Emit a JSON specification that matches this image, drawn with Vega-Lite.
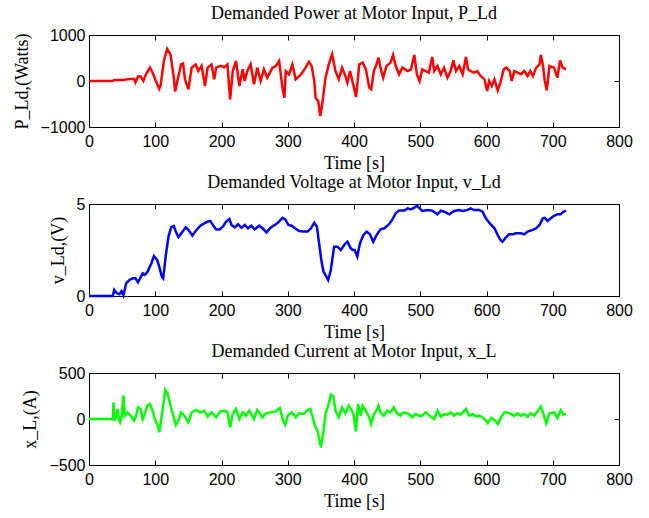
{
  "$schema": "https://vega.github.io/schema/vega-lite/v6.json",
  "padding": {"left": 12, "top": 4, "right": 5, "bottom": 5},
  "spacing": 0,
  "datasets": {
    "power": [
      {"t":0,"v":0},{"t":36,"v":0},{"t":38,"v":22},{"t":53,"v":22},{"t":58,"v":40},{"t":68,"v":50},{"t":70,"v":-30},{"t":74,"v":100},{"t":78,"v":100},{"t":82,"v":0},{"t":86,"v":145},{"t":92,"v":290},{"t":96,"v":180},{"t":103,"v":-70},{"t":106,"v":-170},{"t":108,"v":-100},{"t":113,"v":435},{"t":118,"v":700},{"t":123,"v":580},{"t":128,"v":72},{"t":130,"v":-230},{"t":134,"v":40},{"t":139,"v":360},{"t":142,"v":380},{"t":145,"v":36},{"t":150,"v":-180},{"t":155,"v":290},{"t":161,"v":360},{"t":165,"v":220},{"t":170,"v":330},{"t":175,"v":-110},{"t":179,"v":290},{"t":185,"v":360},{"t":189,"v":36},{"t":192,"v":290},{"t":199,"v":330},{"t":204,"v":300},{"t":209,"v":360},{"t":213,"v":-400},{"t":217,"v":217},{"t":222,"v":435},{"t":227,"v":-110},{"t":232,"v":254},{"t":235,"v":0},{"t":239,"v":217},{"t":244,"v":362},{"t":249,"v":-72},{"t":254,"v":290},{"t":259,"v":0},{"t":264,"v":254},{"t":269,"v":72},{"t":277,"v":290},{"t":282,"v":326},{"t":287,"v":435},{"t":292,"v":-145},{"t":295,"v":-362},{"t":297,"v":217},{"t":302,"v":145},{"t":307,"v":362},{"t":312,"v":36},{"t":320,"v":145},{"t":327,"v":290},{"t":332,"v":420},{"t":336,"v":326},{"t":340,"v":0},{"t":342,"v":-362},{"t":346,"v":-435},{"t":349,"v":-761},{"t":352,"v":-507},{"t":357,"v":72},{"t":362,"v":362},{"t":367,"v":580},{"t":372,"v":217},{"t":377,"v":36},{"t":382,"v":290},{"t":387,"v":109},{"t":390,"v":-36},{"t":394,"v":217},{"t":400,"v":-145},{"t":403,"v":-348},{"t":408,"v":362},{"t":413,"v":399},{"t":418,"v":254},{"t":423,"v":-145},{"t":426,"v":-181},{"t":430,"v":217},{"t":434,"v":362},{"t":437,"v":507},{"t":440,"v":290},{"t":444,"v":72},{"t":449,"v":326},{"t":455,"v":399},{"t":459,"v":565},{"t":463,"v":326},{"t":468,"v":145},{"t":473,"v":290},{"t":481,"v":217},{"t":486,"v":254},{"t":491,"v":565},{"t":495,"v":145},{"t":499,"v":0},{"t":503,"v":254},{"t":508,"v":217},{"t":513,"v":181},{"t":518,"v":522},{"t":521,"v":217},{"t":526,"v":326},{"t":531,"v":145},{"t":536,"v":290},{"t":541,"v":72},{"t":546,"v":217},{"t":550,"v":449},{"t":554,"v":217},{"t":559,"v":326},{"t":564,"v":145},{"t":569,"v":522},{"t":572,"v":254},{"t":576,"v":217},{"t":581,"v":181},{"t":586,"v":217},{"t":591,"v":109},{"t":597,"v":36},{"t":601,"v":-217},{"t":604,"v":0},{"t":608,"v":-109},{"t":612,"v":36},{"t":617,"v":-203},{"t":621,"v":-36},{"t":626,"v":254},{"t":630,"v":290},{"t":635,"v":217},{"t":638,"v":0},{"t":642,"v":217},{"t":647,"v":181},{"t":652,"v":145},{"t":657,"v":217},{"t":662,"v":109},{"t":666,"v":217},{"t":670,"v":109},{"t":675,"v":290},{"t":680,"v":362},{"t":682,"v":565},{"t":685,"v":362},{"t":688,"v":0},{"t":691,"v":-203},{"t":695,"v":326},{"t":702,"v":290},{"t":707,"v":72},{"t":711,"v":449},{"t":715,"v":290},{"t":720,"v":254}
    ],
    "voltage": [
      {"t":0,"v":0},{"t":36,"v":0},{"t":38,"v":0.33},{"t":42,"v":0.15},{"t":46,"v":0.1},{"t":49,"v":0.26},{"t":52,"v":0.03},{"t":56,"v":0.69},{"t":61,"v":0.87},{"t":66,"v":0.96},{"t":70,"v":0.96},{"t":74,"v":0.74},{"t":81,"v":1.23},{"t":84,"v":1.15},{"t":88,"v":1.29},{"t":94,"v":1.77},{"t":98,"v":2.17},{"t":103,"v":1.95},{"t":106,"v":1.6},{"t":110,"v":1.05},{"t":112,"v":0.96},{"t":116,"v":2.23},{"t":120,"v":3.23},{"t":124,"v":3.73},{"t":128,"v":3.8},{"t":131,"v":3.5},{"t":135,"v":3.2},{"t":140,"v":3.44},{"t":146,"v":3.73},{"t":150,"v":3.6},{"t":156,"v":3.28},{"t":161,"v":3.53},{"t":168,"v":3.82},{"t":174,"v":3.95},{"t":179,"v":4.04},{"t":183,"v":4.08},{"t":187,"v":3.86},{"t":192,"v":3.62},{"t":197,"v":3.62},{"t":202,"v":3.77},{"t":207,"v":4.04},{"t":212,"v":4.18},{"t":215,"v":3.86},{"t":220,"v":3.73},{"t":225,"v":3.9},{"t":230,"v":3.71},{"t":235,"v":3.86},{"t":240,"v":3.68},{"t":245,"v":3.82},{"t":250,"v":3.62},{"t":257,"v":3.82},{"t":262,"v":3.68},{"t":268,"v":3.46},{"t":274,"v":3.71},{"t":282,"v":3.9},{"t":287,"v":4.04},{"t":292,"v":4.25},{"t":296,"v":4.18},{"t":301,"v":3.86},{"t":306,"v":3.82},{"t":311,"v":3.68},{"t":317,"v":3.53},{"t":324,"v":3.5},{"t":330,"v":3.5},{"t":335,"v":3.68},{"t":340,"v":3.98},{"t":344,"v":3.77},{"t":347,"v":2.95},{"t":351,"v":1.87},{"t":354,"v":1.32},{"t":357,"v":1.14},{"t":361,"v":0.87},{"t":365,"v":1.41},{"t":370,"v":2.68},{"t":375,"v":2.68},{"t":380,"v":2.5},{"t":386,"v":2.81},{"t":390,"v":2.95},{"t":395,"v":2.6},{"t":398,"v":2.5},{"t":401,"v":2.5},{"t":405,"v":2.14},{"t":409,"v":2.86},{"t":414,"v":3.31},{"t":419,"v":3.5},{"t":424,"v":3.35},{"t":429,"v":2.95},{"t":434,"v":3.31},{"t":440,"v":3.62},{"t":446,"v":3.68},{"t":453,"v":3.9},{"t":458,"v":4.16},{"t":463,"v":4.49},{"t":468,"v":4.64},{"t":476,"v":4.64},{"t":481,"v":4.76},{"t":486,"v":4.71},{"t":491,"v":4.8},{"t":495,"v":4.91},{"t":499,"v":4.76},{"t":503,"v":4.62},{"t":511,"v":4.67},{"t":518,"v":4.64},{"t":526,"v":4.44},{"t":531,"v":4.64},{"t":536,"v":4.58},{"t":544,"v":4.44},{"t":551,"v":4.62},{"t":559,"v":4.67},{"t":564,"v":4.62},{"t":571,"v":4.67},{"t":576,"v":4.76},{"t":581,"v":4.67},{"t":589,"v":4.67},{"t":594,"v":4.58},{"t":599,"v":4.22},{"t":606,"v":3.9},{"t":612,"v":3.68},{"t":617,"v":3.31},{"t":621,"v":3.04},{"t":624,"v":2.95},{"t":629,"v":3.17},{"t":634,"v":3.35},{"t":640,"v":3.35},{"t":644,"v":3.41},{"t":652,"v":3.41},{"t":657,"v":3.35},{"t":662,"v":3.5},{"t":670,"v":3.59},{"t":675,"v":3.68},{"t":680,"v":3.86},{"t":685,"v":4.22},{"t":688,"v":4.25},{"t":692,"v":4.08},{"t":697,"v":4.22},{"t":702,"v":4.36},{"t":707,"v":4.44},{"t":712,"v":4.44},{"t":716,"v":4.58},{"t":720,"v":4.64}
    ],
    "current": [
      {"t":0,"v":0},{"t":36,"v":0},{"t":37,"v":181},{"t":38,"v":-18},{"t":41,"v":25},{"t":43,"v":109},{"t":45,"v":0},{"t":47,"v":-36},{"t":49,"v":11},{"t":52,"v":254},{"t":54,"v":36},{"t":58,"v":72},{"t":63,"v":36},{"t":68,"v":-18},{"t":71,"v":36},{"t":74,"v":127},{"t":78,"v":109},{"t":81,"v":0},{"t":85,"v":72},{"t":88,"v":145},{"t":92,"v":163},{"t":96,"v":90},{"t":100,"v":-18},{"t":104,"v":-72},{"t":106,"v":-145},{"t":108,"v":-54},{"t":113,"v":199},{"t":115,"v":315},{"t":119,"v":272},{"t":123,"v":145},{"t":128,"v":18},{"t":131,"v":-65},{"t":135,"v":-18},{"t":139,"v":72},{"t":144,"v":36},{"t":150,"v":-36},{"t":155,"v":72},{"t":162,"v":98},{"t":168,"v":72},{"t":174,"v":90},{"t":179,"v":25},{"t":185,"v":72},{"t":192,"v":18},{"t":198,"v":83},{"t":205,"v":90},{"t":209,"v":72},{"t":213,"v":-91},{"t":217,"v":54},{"t":222,"v":109},{"t":227,"v":0},{"t":232,"v":72},{"t":237,"v":36},{"t":242,"v":90},{"t":249,"v":0},{"t":254,"v":98},{"t":262,"v":18},{"t":267,"v":62},{"t":274,"v":72},{"t":282,"v":83},{"t":288,"v":120},{"t":293,"v":-18},{"t":296,"v":-62},{"t":300,"v":36},{"t":306,"v":72},{"t":312,"v":18},{"t":317,"v":62},{"t":324,"v":54},{"t":330,"v":98},{"t":334,"v":109},{"t":337,"v":36},{"t":341,"v":-72},{"t":345,"v":-127},{"t":348,"v":-236},{"t":350,"v":-308},{"t":354,"v":-127},{"t":357,"v":54},{"t":361,"v":145},{"t":365,"v":264},{"t":369,"v":243},{"t":372,"v":90},{"t":377,"v":18},{"t":382,"v":127},{"t":387,"v":62},{"t":392,"v":145},{"t":397,"v":90},{"t":399,"v":54},{"t":403,"v":-134},{"t":406,"v":163},{"t":410,"v":36},{"t":413,"v":145},{"t":418,"v":90},{"t":423,"v":18},{"t":426,"v":-54},{"t":430,"v":54},{"t":434,"v":90},{"t":437,"v":145},{"t":440,"v":72},{"t":445,"v":36},{"t":450,"v":90},{"t":455,"v":72},{"t":460,"v":127},{"t":465,"v":62},{"t":470,"v":36},{"t":475,"v":72},{"t":483,"v":54},{"t":488,"v":18},{"t":493,"v":54},{"t":498,"v":36},{"t":503,"v":36},{"t":508,"v":72},{"t":516,"v":25},{"t":521,"v":0},{"t":526,"v":90},{"t":531,"v":25},{"t":536,"v":54},{"t":541,"v":47},{"t":546,"v":72},{"t":551,"v":36},{"t":556,"v":62},{"t":561,"v":47},{"t":569,"v":109},{"t":574,"v":36},{"t":579,"v":54},{"t":584,"v":25},{"t":589,"v":36},{"t":594,"v":18},{"t":599,"v":-18},{"t":602,"v":-47},{"t":607,"v":11},{"t":612,"v":-11},{"t":617,"v":-54},{"t":622,"v":18},{"t":627,"v":72},{"t":632,"v":72},{"t":637,"v":54},{"t":642,"v":36},{"t":647,"v":62},{"t":652,"v":36},{"t":657,"v":54},{"t":662,"v":25},{"t":667,"v":62},{"t":672,"v":36},{"t":677,"v":83},{"t":682,"v":135},{"t":686,"v":54},{"t":690,"v":-47},{"t":695,"v":62},{"t":702,"v":72},{"t":707,"v":11},{"t":712,"v":98},{"t":716,"v":47},{"t":720,"v":54}
    ]
  },
  "vconcat": [
    {
      "title": "Demanded Power at Motor Input, P_Ld",
      "width": 530, "height": 92,
      "data": {"name": "power"},
      "resolve": {"axis": {"x": "independent", "y": "independent"}},
      "layer": [
        {
          "mark": {"type": "line", "color": "#ff0000", "strokeWidth": 2.5},
          "encoding": {
            "x": {"field": "t", "type": "quantitative", "scale": {"domain": [0, 800], "nice": false}, "axis": {"title": "Time [s]", "values": [0,100,200,300,400,500,600,700,800]}},
            "y": {"field": "v", "type": "quantitative", "scale": {"domain": [-1000, 1000], "nice": false}, "axis": {"title": "P_Ld,(Watts)", "values": [-1000, 0, 1000], "format": "d"}}
          }
        },
        {
          "mark": {"type": "line", "opacity": 0},
          "encoding": {
            "x": {"field": "t", "type": "quantitative", "axis": {"orient": "top", "labels": false, "title": null, "values": [0,100,200,300,400,500,600,700,800]}},
            "y": {"field": "v", "type": "quantitative", "axis": {"orient": "right", "labels": false, "title": null, "values": [-1000, 0, 1000]}}
          }
        }
      ]
    },
    {
      "title": "Demanded Voltage at Motor Input, v_Ld",
      "width": 530, "height": 92,
      "data": {"name": "voltage"},
      "resolve": {"axis": {"x": "independent", "y": "independent"}},
      "layer": [
        {
          "mark": {"type": "line", "color": "#0000ff", "strokeWidth": 2.5},
          "encoding": {
            "x": {"field": "t", "type": "quantitative", "scale": {"domain": [0, 800], "nice": false}, "axis": {"title": "Time [s]", "values": [0,100,200,300,400,500,600,700,800]}},
            "y": {"field": "v", "type": "quantitative", "scale": {"domain": [0, 5], "nice": false}, "axis": {"title": "v_Ld,(V)", "values": [0, 5], "format": "d"}}
          }
        },
        {
          "mark": {"type": "line", "opacity": 0},
          "encoding": {
            "x": {"field": "t", "type": "quantitative", "axis": {"orient": "top", "labels": false, "title": null, "values": [0,100,200,300,400,500,600,700,800]}},
            "y": {"field": "v", "type": "quantitative", "axis": {"orient": "right", "labels": false, "title": null, "values": [0, 5]}}
          }
        }
      ]
    },
    {
      "title": "Demanded Current at Motor Input, x_L",
      "width": 530, "height": 92,
      "data": {"name": "current"},
      "resolve": {"axis": {"x": "independent", "y": "independent"}},
      "layer": [
        {
          "mark": {"type": "line", "color": "#00ff00", "strokeWidth": 2.5},
          "encoding": {
            "x": {"field": "t", "type": "quantitative", "scale": {"domain": [0, 800], "nice": false}, "axis": {"title": "Time [s]", "values": [0,100,200,300,400,500,600,700,800]}},
            "y": {"field": "v", "type": "quantitative", "scale": {"domain": [-500, 500], "nice": false}, "axis": {"title": "x_L,(A)", "values": [-500, 0, 500], "format": "d"}}
          }
        },
        {
          "mark": {"type": "line", "opacity": 0},
          "encoding": {
            "x": {"field": "t", "type": "quantitative", "axis": {"orient": "top", "labels": false, "title": null, "values": [0,100,200,300,400,500,600,700,800]}},
            "y": {"field": "v", "type": "quantitative", "axis": {"orient": "right", "labels": false, "title": null, "values": [-500, 0, 500]}}
          }
        }
      ]
    }
  ],
  "config": {
    "background": "white",
    "view": {"stroke": "#000000", "strokeWidth": 1},
    "title": {"font": "Liberation Serif", "fontSize": 18, "fontWeight": "normal", "color": "#000000", "offset": 4},
    "axis": {
      "grid": false,
      "domain": false,
      "tickColor": "#000000",
      "tickSize": -5,
      "labelFont": "Liberation Sans",
      "labelFontSize": 16,
      "labelColor": "#000000",
      "labelFlush": false,
      "labelOverlap": false,
      "titleFont": "Liberation Serif",
      "titleFontSize": 18,
      "titleFontWeight": "normal",
      "titleColor": "#000000"
    },
    "axisX": {"labelPadding": 11, "titlePadding": 5},
    "axisY": {"labelPadding": 9, "titlePadding": 9}
  }
}
